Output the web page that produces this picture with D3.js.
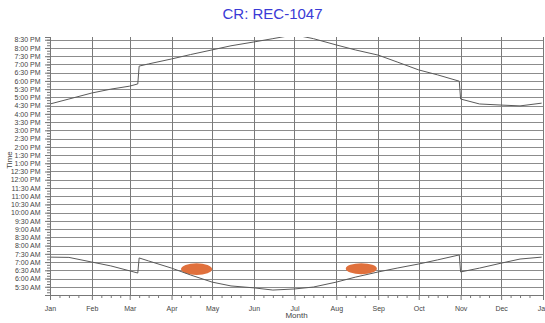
<!DOCTYPE html>
<html>
<head>
<meta charset="utf-8">
<script src="https://cdn.jsdelivr.net/npm/d3@7"></script>
<style>
  body { margin: 0; background: #fff; }
  svg { display: block; font-family: 'Liberation Sans', Arial, sans-serif; }
</style>
</head>
<body>
<svg id="chart" width="545" height="323"></svg>
<script>
var title = 'CR: REC-1047';
var monthLabels = ['Jan', 'Feb', 'Mar', 'Apr', 'May', 'Jun', 'Jul', 'Aug', 'Sep', 'Oct', 'Nov', 'Dec', 'Jan'];
var timeLabels = ['5:30 AM', '6:00 AM', '6:30 AM', '7:00 AM', '7:30 AM', '8:00 AM', '8:30 AM', '9:00 AM',
  '9:30 AM', '10:00 AM', '10:30 AM', '11:00 AM', '11:30 AM', '12:00 PM', '12:30 PM', '1:00 PM', '1:30 PM',
  '2:00 PM', '2:30 PM', '3:00 PM', '3:30 PM', '4:00 PM', '4:30 PM', '5:00 PM', '5:30 PM', '6:00 PM',
  '6:30 PM', '7:00 PM', '7:30 PM', '8:00 PM', '8:30 PM'];

// day of year (month-day), sunrise and sunset clock times
var days = ['01-01', '01-15', '02-01', '02-15', '03-01', '03-07', '03-08', '03-15', '04-01', '04-15',
  '05-01', '05-15', '06-01', '06-15', '07-01', '07-15', '08-01', '08-15', '09-01', '09-15',
  '10-01', '10-15', '10-31', '11-01', '11-15', '12-01', '12-15', '12-31'];
var sunrise = ['7:18', '7:17', '7:00', '6:46', '6:28', '6:20', '7:15', '7:04', '6:38', '6:13',
  '5:47', '5:33', '5:26', '5:18', '5:22', '5:29', '5:47', '6:05', '6:24', '6:38',
  '6:53', '7:08', '7:26', '6:24', '6:38', '6:56', '7:11', '7:18'];
var sunset = ['16:36', '16:54', '17:16', '17:30', '17:41', '17:49', '18:54', '19:02', '19:20', '19:36',
  '19:53', '20:08', '20:22', '20:34', '20:48', '20:34', '20:11', '19:53', '19:34', '19:09',
  '18:40', '18:22', '17:59', '16:54', '16:36', '16:32', '16:29', '16:39'];

// glare periods: start day, end day, from time, to time
var glareStart = ['04-08', '08-08'];
var glareEnd = ['05-01', '08-31'];
var glareFrom = ['6:13', '6:16'];
var glareTo = ['6:56', '6:56'];

var year = 2023;
var width = 545, height = 323;
var margin = { top: 37, right: 2, bottom: 28, left: 50 };

function toDate(md) { return new Date(year + '-' + md + 'T00:00:00'); }
function toHours(s) { var p = s.split(':'); return +p[0] + (+p[1]) / 60; }
function labelHours(s) {
  var m = s.match(/(\d+):(\d+) (AM|PM)/);
  var h = +m[1] % 12 + (m[3] === 'PM' ? 12 : 0);
  return h + (+m[2]) / 60;
}

var svg = d3.select('#chart');

var x = d3.scaleTime()
  .domain([new Date(year, 0, 1), new Date(year + 1, 0, 1)])
  .range([margin.left, width - margin.right]);

var y = d3.scaleLinear()
  .domain([5, 20 + 40 / 60])
  .range([height - margin.bottom, margin.top]);

var monthDates = x.ticks(d3.timeMonth.every(1));
var minorDates = [];
monthDates.slice(0, 12).forEach(function(d) {
  [8, 15, 22].forEach(function(day) { minorDates.push(new Date(d.getFullYear(), d.getMonth(), day)); });
});
var majorHours = timeLabels.map(labelHours);
var minorHours = d3.range(y.domain()[0], y.domain()[1] + 0.001, 1 / 6);

svg.append('defs').append('clipPath').attr('id', 'plot-clip')
  .append('rect')
  .attr('x', margin.left)
  .attr('y', margin.top)
  .attr('width', width - margin.left - margin.right)
  .attr('height', height - margin.top - margin.bottom);

// grid
var grid = svg.append('g').attr('stroke', '#8c8c8c').attr('stroke-width', 1);
grid.selectAll('.hgrid').data(majorHours).enter().append('line')
  .attr('x1', margin.left).attr('x2', width - margin.right)
  .attr('y1', d => Math.round(y(d)) + 0.5).attr('y2', d => Math.round(y(d)) + 0.5);
grid.selectAll('.vgrid').data(monthDates).enter().append('line')
  .attr('stroke', '#7a7a7a')
  .attr('x1', d => Math.round(x(d)) + 0.5).attr('x2', d => Math.round(x(d)) + 0.5)
  .attr('y1', margin.top).attr('y2', height - margin.bottom);

// glare blobs
svg.append('g').selectAll('ellipse')
  .data(glareStart.map(function(d, i) {
    return { x0: x(toDate(d)), x1: x(toDate(glareEnd[i])), y0: y(toHours(glareFrom[i])), y1: y(toHours(glareTo[i])) };
  }))
  .enter().append('ellipse')
  .attr('cx', d => (d.x0 + d.x1) / 2)
  .attr('cy', d => (d.y0 + d.y1) / 2)
  .attr('rx', d => (d.x1 - d.x0) / 2)
  .attr('ry', d => (d.y0 - d.y1) / 2)
  .attr('fill', '#e0703c');

// sunrise / sunset lines
var line = d3.line()
  .x(d => x(d.date))
  .y(d => y(d.t));

[sunrise, sunset].forEach(function(series) {
  var pts = days.map(function(d, i) { return { date: toDate(d), t: toHours(series[i]) }; });
  svg.append('path')
    .datum(pts)
    .attr('clip-path', 'url(#plot-clip)')
    .attr('fill', 'none')
    .attr('stroke', '#5a5a5a')
    .attr('stroke-width', 1)
    .attr('d', line);
});

// axes
var xAxis = svg.append('g')
  .attr('transform', 'translate(0,' + (height - margin.bottom) + ')')
  .call(d3.axisBottom(x).tickValues(monthDates).tickSize(5)
    .tickFormat((d, i) => monthLabels[i]));
svg.append('g')
  .attr('transform', 'translate(0,' + (height - margin.bottom) + ')')
  .call(d3.axisBottom(x).tickValues(minorDates).tickSize(3).tickFormat(''))
  .call(g => g.select('.domain').remove());

var yAxis = svg.append('g')
  .attr('transform', 'translate(' + margin.left + ',0)')
  .call(d3.axisLeft(y).tickValues(majorHours).tickSize(5)
    .tickFormat((d, i) => timeLabels[i]));
svg.append('g')
  .attr('transform', 'translate(' + margin.left + ',0)')
  .call(d3.axisLeft(y).tickValues(minorHours).tickSize(3).tickFormat(''))
  .call(g => g.select('.domain').remove());

svg.selectAll('.domain, .tick line').attr('stroke', '#777');
xAxis.selectAll('text').attr('font-size', 7).attr('fill', '#444').attr('dy', '1.1em')
  .attr('font-family', 'Liberation Sans, Arial, sans-serif');
yAxis.selectAll('text').attr('font-size', 7).attr('fill', '#444').attr('dx', '-0.2em')
  .attr('font-family', 'Liberation Sans, Arial, sans-serif');

svg.append('text')
  .attr('x', width / 2)
  .attr('y', 19)
  .attr('text-anchor', 'middle')
  .attr('font-size', 15)
  .attr('fill', '#3a3ad6')
  .text(title);

svg.append('text')
  .attr('x', (margin.left + width - margin.right) / 2)
  .attr('y', 318)
  .attr('text-anchor', 'middle')
  .attr('font-size', 8)
  .attr('fill', '#444')
  .text('Month');

svg.append('text')
  .attr('transform', 'translate(12,160) rotate(-90)')
  .attr('text-anchor', 'middle')
  .attr('font-size', 8)
  .attr('fill', '#444')
  .text('Time');
</script>
</body>
</html>
